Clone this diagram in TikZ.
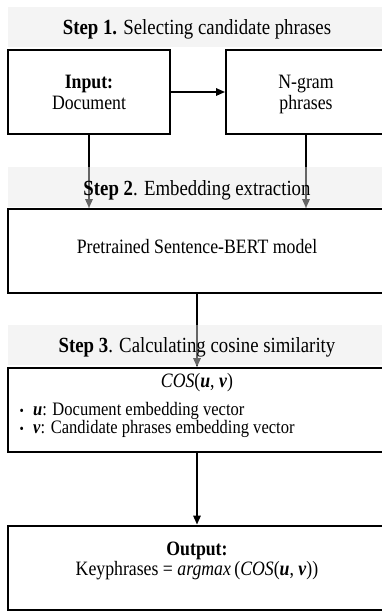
\documentclass[tikz,border=0pt]{standalone}
\usepackage{fontspec}
\setmainfont{Liberation Serif}[FakeStretch=0.87]
\usetikzlibrary{arrows.meta}
\begin{document}
\begin{tikzpicture}[x=1pt,y=-1pt,
  box/.style={draw=black,line width=2pt,minimum height=84pt,inner sep=0pt},
  txt/.style={anchor=base,inner sep=0pt,font=\fontsize{20.4}{23}\selectfont},
  bandfill/.style={fill={rgb,1:red,0.91;green,0.91;blue,0.91},fill opacity=0.44},
  head/.style={anchor=base,inner sep=0pt,font=\fontsize{21.6}{24}\selectfont},
  arr/.style={line width=1.6pt,-{Triangle[length=9pt,width=7.5pt]}},
  bul/.style={anchor=base west,inner sep=0pt,font=\fontsize{19}{21}\selectfont},
  bdot/.style={anchor=base,inner sep=0pt,font=\fontsize{14}{16}\selectfont}]
\clip (0,0) rectangle (382,611);
\fill[white] (0,0) rectangle (382,611);
% boxes
\node[box,minimum width=162pt] (in) at (89,92) {};
\node[box,minimum width=160pt] (ng) at (306,92) {};
\node[box,minimum width=378pt] (s2) at (197,251) {};
\node[box,minimum width=378pt] (s3) at (197,410) {};
\node[box,minimum width=378pt] (out) at (197,567.5) {};
% box texts
\node[txt] (t1a) at (89,88) {\textbf{Input:}};
\node[txt] (t1b) at (89,109) {Document};
\node[txt] (t2a) at (306,88) {N-gram};
\node[txt] (t2b) at (306,109) {phrases};
\node[txt] (t3) at (197,253) {Pretrained Sentence-BERT model};
\node[txt] (cos) at (197,387) {\textit{COS}(\textbf{\textit{u}}, \textbf{\textit{v}})};
\node[bdot] (d1) at (21.7,415) {•};
\node[bul] (b1) at (33,415) {\textbf{\textit{u}}: Document embedding vector};
\node[bdot] (d2) at (21.7,433) {•};
\node[bul] (b2) at (33,433) {\textbf{\textit{v}}: Candidate phrases embedding vector};
\node[txt] (o1) at (197,555) {\textbf{Output:}};
\node[txt] (o2) at (197,575) {Keyphrases = \textit{argmax}\,(\textit{COS}(\textbf{\textit{u}}, \textbf{\textit{v}}))};
% connectors
\draw[arr] (in.east) -- (ng.west);
\draw[arr] (in.south) -- (in.south |- s2.north);
\draw[arr] (ng.south) -- (ng.south |- s2.north);
\draw[arr] (s2.south) -- (s3.north);
\draw[arr] (s3.south) -- (out.north);
% bands
\fill[bandfill] (8,7) rectangle (386,47);
\fill[bandfill] (8,167) rectangle (386,207);
\fill[bandfill] (8,325) rectangle (386,365);
\node[head] (h1) at (197,34) {\textbf{Step 1.} Selecting candidate phrases};
\node[head] (h2) at (197,195) {\textbf{Step 2}. Embedding extraction};
\node[head] (h3) at (197,352) {\textbf{Step 3}. Calculating cosine similarity};
\end{tikzpicture}
\end{document}
